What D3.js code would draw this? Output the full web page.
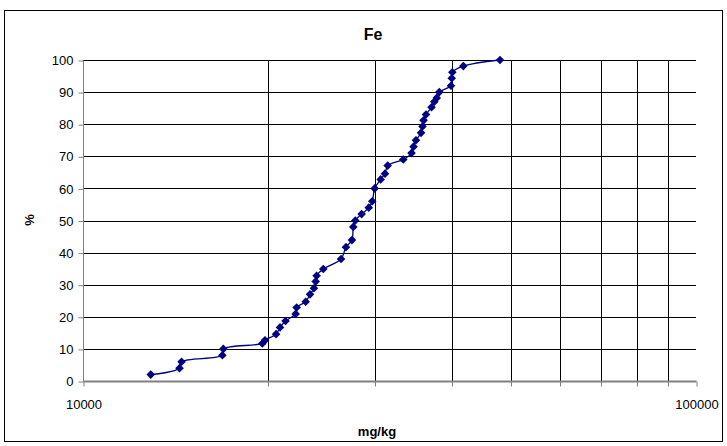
<!DOCTYPE html>
<html><head><meta charset="utf-8">
<script src="https://cdn.jsdelivr.net/npm/d3@7"></script>
<style>body{margin:0;background:#fff}svg{display:block}text{font-family:"Liberation Sans",Arial,sans-serif}</style>
</head><body><svg id="c" width="727" height="446"></svg>
<script>
const title = "Fe";
const xLabel = "mg/kg";
const yLabel = "%";
const feValues = [12900,14370,14480,16880,16940,19610,19810,20650,20960,21400,22230,22310,23080,23460,23810,23970,24050,24660,26360,26850,27460,27600,27810,28480,29250,29640,29910,30590,31090,31410,33300,34350,34610,34930,35600,35800,35940,36270,37030,37420,37760,38130,39840,39950,40040,41730,47890];
const pctValues = [2,4,6,8,10,11.7,12.7,14.6,16.7,18.7,20.9,22.9,24.7,27,28.9,31,32.8,34.9,38,41.7,43.9,48,50,52,54,56,60,62.8,64.6,67.1,69,71,73,75,77.3,79.3,81.2,83,85.3,87,88.2,90,92,94.3,96.2,98.1,100];
const yTicks = [0,10,20,30,40,50,60,70,80,90,100];
const xGrid = [20000,30000,40000,50000,60000,70000,80000,90000];
const xTickLabels = [10000,100000];

const svg = d3.select("#c");
const L=83,R=696,T=60,B=381;
const x = d3.scaleLog().domain([10000,100000]).range([L,R]);
const y = d3.scaleLinear().domain([0,100]).range([B,T]);

svg.append("rect").attr("x",4.5).attr("y",10.5).attr("width",718).attr("height",431)
  .attr("fill","#fff").attr("stroke","#000").attr("stroke-width",1);

svg.append("g").selectAll("line").data(yTicks.filter(d=>d>0)).join("line")
  .attr("x1",L).attr("x2",R).attr("y1",d=>Math.round(y(d))+0.5).attr("y2",d=>Math.round(y(d))+0.5)
  .attr("stroke","#000").attr("stroke-width",1);
svg.append("g").selectAll("line").data(xGrid).join("line")
  .attr("x1",d=>Math.round(x(d))+0.5).attr("x2",d=>Math.round(x(d))+0.5).attr("y1",T).attr("y2",B)
  .attr("stroke","#000").attr("stroke-width",1);

const ya = svg.append("g").attr("transform",`translate(${L+0.5},0.5)`)
  .call(d3.axisLeft(y).tickValues(yTicks).tickSize(5).tickPadding(5));
ya.selectAll("text").attr("font-size",13).attr("fill","#000").style("font-family","Liberation Sans, Arial, sans-serif");
ya.selectAll("line,path").attr("stroke","#808080");
ya.select(".domain").attr("d",`M0,${T}V${B}`);

const xa = svg.append("g").attr("transform",`translate(0.5,${B+0.5})`)
  .call(d3.axisBottom(x).tickValues(xTickLabels).tickFormat(d3.format("d")).tickSize(5).tickPadding(13));
xa.selectAll("text").attr("font-size",13).attr("fill","#000").style("font-family","Liberation Sans, Arial, sans-serif");
xa.selectAll("line").attr("stroke","#808080");
xa.select(".domain").attr("stroke","#808080").attr("stroke-width",2).attr("d",`M${L},0H${R}`);
svg.append("g").attr("transform",`translate(0.5,${B+0.5})`).selectAll("line").data(xGrid).join("line")
  .attr("x1",d=>Math.round(x(d))).attr("x2",d=>Math.round(x(d))).attr("y1",0).attr("y2",5).attr("stroke","#808080");

const pts = feValues.map((v,i)=>[x(v), y(pctValues[i])]);
svg.append("path").attr("d", d3.line().curve(d3.curveCatmullRom.alpha(0.5))(pts))
  .attr("fill","none").attr("stroke","#000080").attr("stroke-width",1.3);
svg.append("g").selectAll("path").data(pts).join("path")
  .attr("transform",d=>`translate(${d[0]},${d[1]})`)
  .attr("d","M0,-4.3L4.3,0L0,4.3L-4.3,0Z").attr("fill","#000080");

svg.append("text").attr("x",373).attr("y",40).attr("text-anchor","middle").attr("font-size",16).attr("font-weight","bold").text(title);
svg.append("text").attr("x",377).attr("y",436).attr("text-anchor","middle").attr("font-size",13).attr("font-weight","bold").text(xLabel);
svg.append("text").attr("transform","translate(34,220) rotate(-90)").attr("text-anchor","middle").attr("font-size",13).attr("font-weight","bold").text(yLabel);
</script></body></html>
